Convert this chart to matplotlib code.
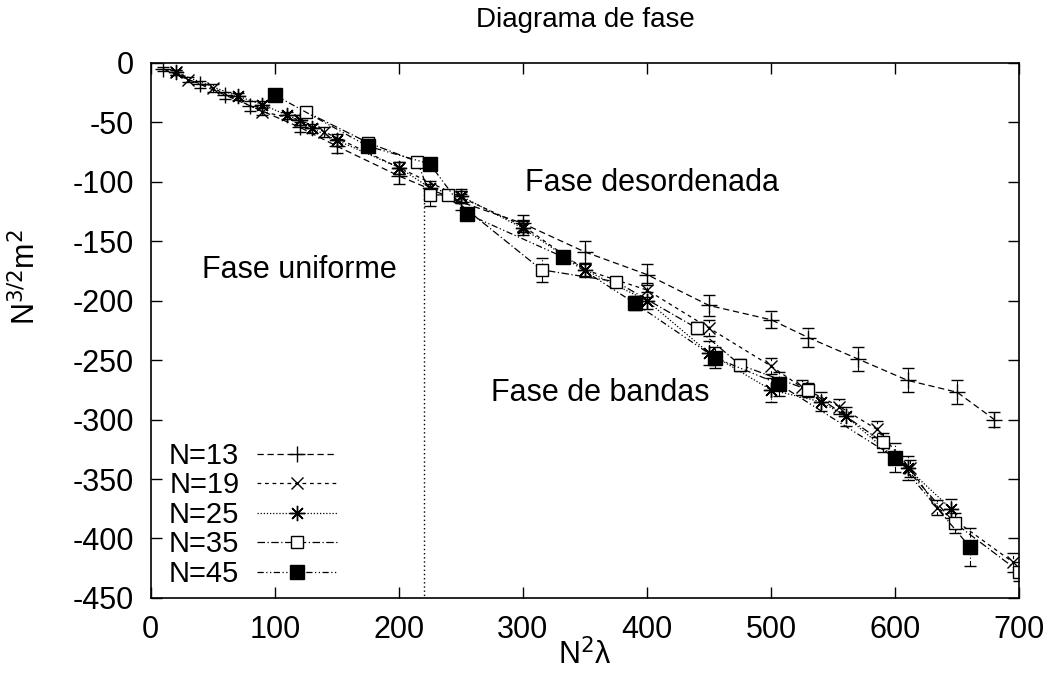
import matplotlib
matplotlib.use("Agg")
import matplotlib.pyplot as plt
from matplotlib.lines import Line2D

plt.rcParams["font.family"] = ["Liberation Sans", "DejaVu Sans"]
plt.rcParams["font.size"] = 22
plt.rcParams["axes.unicode_minus"] = False

# N=13
n13_x = [10, 40, 60, 80, 120, 150, 200, 250, 300, 350, 400, 450, 500, 530, 570, 610, 650, 680]
n13_y = [-5, -18, -27, -36, -54, -70, -95, -117, -135, -159, -178, -204, -216, -231, -249, -267, -277, -300]
n13_e = [2, 3, 3, 4, 4, 6, 7, 7, 7, 9, 9, 9, 7, 8, 10, 10, 10, 6]
# N=19
n19_x = [20, 30, 50, 90, 120, 140, 200, 250, 300, 350, 400, 450, 500, 525, 555, 585, 612, 634, 695]
n19_y = [-8, -14, -21, -41, -48, -58, -88, -113, -137, -174, -191, -223, -255, -273, -289, -308, -341, -374, -420]
n19_e = [2, 2, 3, 3, 4, 4, 5, 5, 5, 5, 6, 7, 7, 6, 6, 7, 7, 6, 8]
# N=25
n25_x = [20, 70, 90, 110, 120, 130, 150, 200, 225, 250, 300, 350, 400, 450, 500, 540, 560, 610, 645]
n25_y = [-8, -28, -35, -44, -48, -55, -65, -88, -105, -112, -139, -174, -200, -244, -275, -285, -297, -341, -375]
n25_e = [2, 3, 3, 3, 4, 4, 5, 5, 6, 6, 6, 6, 7, 10, 10, 8, 8, 10, 8]
# N=35
n35_x = [125, 175, 215, 225, 240, 315, 375, 440, 475, 530, 590, 648, 700]
n35_y = [-41, -67, -83, -111, -111, -174, -184, -223, -254, -275, -319, -387, -428]
n35_e = [3, 3, 3, 9, 3, 10, 4, 5, 5, 6, 8, 8, 8]
# N=45
n45_x = [100, 175, 225, 255, 332, 390, 455, 506, 600, 660]
n45_y = [-27, -70, -85, -127, -163, -202, -248, -270, -332, -407]
n45_e = [2, 3, 3, 3, 4, 6, 9, 10, 12, 16]

series = [
    ("N=13", n13_x, n13_y, n13_e, (0, (5, 3)), "+", dict(ms=11, mew=1.0, mfc="black")),
    ("N=19", n19_x, n19_y, n19_e, (0, (3, 3)), "x", dict(ms=9, mew=1.0, mfc="black")),
    ("N=25", n25_x, n25_y, n25_e, (0, (1, 1.5)), (8, 2, 0), dict(ms=11, mew=1.0, mfc="black")),
    ("N=35", n35_x, n35_y, n35_e, (0, (6, 2, 1, 2)), "s", dict(ms=9, mew=1.0, mfc="white")),
    ("N=45", n45_x, n45_y, n45_e, (0, (5, 2, 1, 2, 1, 2)), "s", dict(ms=10, mew=1.0, mfc="black")),
]

fig = plt.figure(figsize=(10.54, 6.92), dpi=100)
ax = fig.add_axes([0.143, 0.136, 0.824, 0.773])

handles = []
for label, x, y, e, ls, mk, kw in series:
    cont = ax.errorbar(x, y, yerr=e, color="black", lw=0.9, ls=ls, marker=mk,
                       mec="black", capsize=4, elinewidth=0.8, capthick=0.8, **kw)
    for lc in cont[2]:
        lc.set_linestyle(ls)
    handles.append(Line2D([], [], color="black", lw=0.9, ls=ls, marker=mk,
                          mec="black", **kw))

ax.plot([220, 220], [-107, -450], color="black", lw=1.0, ls=(0, (1, 2)))

ax.text(404, -101, "Fase desordenada", ha="center", va="center")
ax.text(120, -174, "Fase uniforme", ha="center", va="center")
ax.text(362, -278, "Fase de bandas", ha="center", va="center")

ax.set_xlim(0, 700)
ax.set_ylim(-450, 0)
ax.set_xticks(range(0, 701, 100))
ax.set_yticks(range(-450, 1, 50))
ax.tick_params(direction="in", top=True, right=True, length=8, width=1, pad=12)
for s in ax.spines.values():
    s.set_linewidth(1.2)

ax.set_title("Diagrama de fase", fontsize=20, pad=26)
ax.set_xlabel("N$^2$λ", labelpad=-4)
ax.set_ylabel("N$^{3/2}$m$^2$")
ax.yaxis.set_label_coords(-0.125, 0.6)

ax.legend(handles, [s[0] for s in series], loc="lower left", bbox_to_anchor=(0.021, 0.019),
          frameon=False, markerfirst=False, fontsize=21, handlelength=2.75,
          labelspacing=0.05, handletextpad=0.6, borderaxespad=0, borderpad=0)

plt.savefig("out.png", dpi=100)
